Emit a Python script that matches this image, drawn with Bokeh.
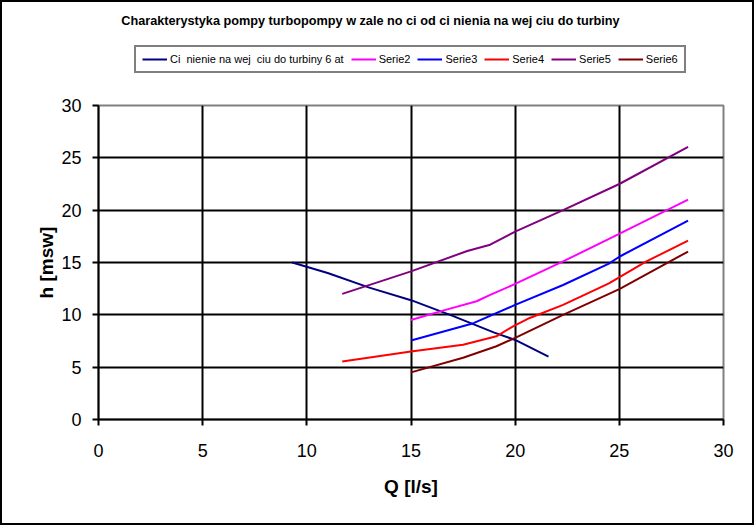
from bokeh.plotting import figure
from bokeh.layouts import column
from bokeh.models import (Range1d, FixedTicker, Legend, LegendItem, Label)
from bokeh.embed import file_html
from bokeh.resources import INLINE

# ---- data ----
s1_q = [9.3, 11.0, 13.0, 15.0, 17.0, 19.0, 20.0, 21.6]
s1_h = [15.0, 14.0, 12.6, 11.4, 9.9, 8.3, 7.6, 6.0]

s2_q = [15.0, 16.7, 18.15, 18.8, 20.0, 22.3, 24.7, 28.3]
s2_h = [9.5, 10.5, 11.3, 11.9, 12.95, 15.1, 17.45, 21.0]

s3_q = [15.0, 18.0, 20.0, 22.3, 24.5, 25.0, 28.3]
s3_h = [7.55, 9.2, 10.95, 12.85, 14.9, 15.55, 19.0]

s4_q = [11.7, 15.0, 17.5, 19.1, 19.9, 20.7, 22.3, 24.5, 26.3, 28.3]
s4_h = [5.55, 6.5, 7.15, 7.95, 8.9, 9.7, 10.95, 13.0, 15.1, 17.1]

s5_q = [11.7, 15.0, 17.7, 18.8, 20.0, 22.3, 25.0, 28.3]
s5_h = [12.0, 14.15, 16.1, 16.7, 17.95, 20.0, 22.5, 26.05]

s6_q = [15.0, 17.5, 19.1, 20.0, 22.3, 25.0, 28.3]
s6_h = [4.5, 5.9, 7.0, 7.8, 10.0, 12.45, 16.05]

names = ["Ci  nienie na wej  ciu do turbiny 6 at", "Serie2", "Serie3", "Serie4", "Serie5", "Serie6"]
colors = ["#000080", "#FF00FF", "#0000FF", "#FF0000", "#800080", "#800000"]
series = [(s1_q, s1_h), (s2_q, s2_h), (s3_q, s3_h), (s4_q, s4_h), (s5_q, s5_h), (s6_q, s6_h)]

ticks = [0, 5, 10, 15, 20, 25, 30]
grid_ticks = [5, 10, 15, 20, 25]
title_text = "Charakterystyka pompy turbopompy w zale  no  ci od ci  nienia na wej  ciu do turbiny"

FONT = "Liberation Sans"
W = 750
TOP_H = 80
MAIN_H = 441

# ---------- header figure: title + legend ----------
top = figure(width=W, height=TOP_H, output_backend="svg", toolbar_location=None,
             x_range=Range1d(0, W), y_range=Range1d(0, TOP_H),
             x_axis_type=None, y_axis_type=None,
             min_border_left=0, min_border_right=0, min_border_top=0, min_border_bottom=0)
top.frame_align = False
top.title.visible = False
top.outline_line_color = None
top.grid.visible = False
top.background_fill_color = "white"
top.border_fill_color = "white"

top.add_layout(Label(x=W / 2, y=TOP_H - 18, text=title_text, text_align="center",
                     text_baseline="middle", text_font=FONT, text_font_style="bold",
                     text_font_size="12.7px", text_color="black"))

nan = float("nan")
legend_renderers = [top.line(x=[nan], y=[nan], line_color=c, line_width=2) for c in colors]
legend = Legend(items=[LegendItem(label=n, renderers=[r]) for n, r in zip(names, legend_renderers)],
                orientation="horizontal", location=(132, 9))
legend.border_line_color = "black"
legend.border_line_width = 2
legend.background_fill_color = "white"
legend.label_text_font = FONT
legend.label_text_font_size = "11px"
legend.label_text_color = "black"
legend.glyph_width = 25
legend.glyph_height = 10
legend.label_standoff = 3
legend.spacing = 7
legend.padding = 6
legend.margin = 0
legend.label_height = 12
legend.label_text_baseline = "middle"
top.add_layout(legend, "center")

# ---------- main chart ----------
p = figure(width=W, height=MAIN_H, output_backend="svg", toolbar_location=None,
           x_range=Range1d(0, 30), y_range=Range1d(0, 30),
           min_border_left=96, min_border_right=29, min_border_top=23, min_border_bottom=104)
p.frame_align = False
p.background_fill_color = "white"
p.border_fill_color = "white"
p.outline_line_color = "#808080"
p.outline_line_width = 2
p.title.visible = False

for ax in (p.xaxis[0], p.yaxis[0]):
    ax.ticker = FixedTicker(ticks=ticks)
    ax.axis_line_color = "black"
    ax.axis_line_width = 2
    ax.major_tick_line_color = "black"
    ax.major_tick_line_width = 2
    ax.major_tick_out = 6
    ax.major_tick_in = 0
    ax.minor_tick_line_color = None
    ax.major_label_text_font = FONT
    ax.major_label_text_font_size = "18px"
    ax.major_label_text_color = "black"
    ax.axis_label_text_font = FONT
    ax.axis_label_text_font_style = "bold"
    ax.axis_label_text_font_size = "19px"
    ax.axis_label_text_color = "black"

p.xaxis.axis_label = "Q [l/s]"
p.yaxis.axis_label = "h [msw]"
p.xaxis.major_label_standoff = 18
p.yaxis.major_label_standoff = 11
p.xaxis.axis_label_standoff = 16
p.yaxis.axis_label_standoff = 1

for g in (p.xgrid[0], p.ygrid[0]):
    g.ticker = FixedTicker(ticks=grid_ticks)
    g.grid_line_color = "black"
    g.grid_line_width = 2

for (q, h), c in zip(series, colors):
    p.line(q, h, line_color=c, line_width=2)

layout = column(top, p, spacing=0)
layout.styles = {"border": "2px solid black", "background-color": "white"}

open("out.html", "w").write(file_html(layout, INLINE))
